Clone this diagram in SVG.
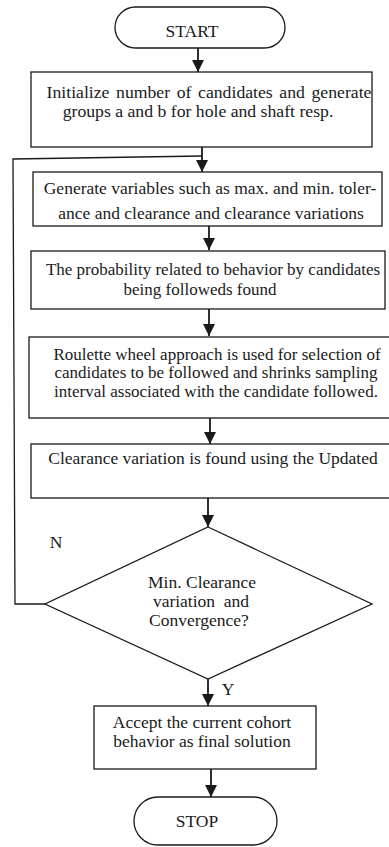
<svg xmlns="http://www.w3.org/2000/svg" width="389" height="847" viewBox="0 0 389 847">
  <style>
    .shape { fill: #ffffff; stroke: #1a1a1a; stroke-width: 1.3; }
    .label { font-family: "Liberation Serif", "Times New Roman", serif; font-size: 17.5px; fill: #1a1a1a; text-anchor: middle; }
    .tight { font-size: 17px; }
    .flow { fill: none; stroke: #1a1a1a; stroke-width: 1.8; }
    .loop { fill: none; stroke: #1a1a1a; stroke-width: 1.3; }
  </style>
  <defs>
    <marker id="arrow" markerUnits="userSpaceOnUse" viewBox="0 0 12 12" refX="12" refY="6" markerWidth="12" markerHeight="12" orient="auto">
      <path d="M0,0 L12,6 L0,12 z" fill="#1a1a1a"/>
    </marker>
  </defs>

  <rect width="389" height="847" fill="#ffffff"/>

  <!-- connectors -->
  <g id="connectors">
    <line class="flow" x1="198" y1="48" x2="198" y2="72" marker-end="url(#arrow)"/>
    <line class="flow" x1="202" y1="147" x2="202" y2="172" marker-end="url(#arrow)"/>
    <line class="flow" x1="209" y1="226" x2="209" y2="250" marker-end="url(#arrow)"/>
    <line class="flow" x1="209" y1="309" x2="209" y2="336" marker-end="url(#arrow)"/>
    <line class="flow" x1="210" y1="418" x2="210" y2="444" marker-end="url(#arrow)"/>
    <line class="flow" x1="208" y1="498" x2="208" y2="527" marker-end="url(#arrow)"/>
    <line class="flow" x1="208" y1="679" x2="208" y2="706" marker-end="url(#arrow)"/>
    <line class="flow" x1="211" y1="769" x2="211" y2="797" marker-end="url(#arrow)"/>
    <!-- "N" branch loops back above the variable generation step -->
    <polyline class="loop" points="45,604 15,604 13,159 202,156"/>
    <text class="label" x="56" y="548">N</text>
    <text class="label" x="228" y="695">Y</text>
  </g>

  <g id="start">
    <rect class="shape" x="115" y="7" width="170" height="41" rx="20.5"/>
    <text class="label" x="192" y="37">START</text>
  </g>

  <g id="init">
    <rect class="shape" x="31" y="72" width="341" height="75"/>
    <text class="label" x="209" y="98" style="font-size:17.7px; word-spacing:2.2px">Initialize number of candidates and generate</text>
    <text class="label" x="198" y="117" style="font-size:17.7px">groups a and b for hole and shaft resp.</text>
  </g>

  <g id="generate">
    <rect class="shape" x="33" y="172" width="349" height="54"/>
    <text class="label" x="210" y="194">Generate variables such as max. and min. toler-</text>
    <text class="label" x="211" y="219">ance and clearance and clearance variations</text>
  </g>

  <g id="probability">
    <rect class="shape" x="31" y="251" width="354" height="58"/>
    <text class="label tight" x="213" y="275">The probability related to behavior by candidates</text>
    <text class="label tight" x="200" y="294.5">being followeds found</text>
  </g>

  <g id="roulette">
    <rect class="shape" x="29" y="337" width="365" height="81"/>
    <text class="label tight" x="217" y="359.5">Roulette wheel approach is used for selection of</text>
    <text class="label tight" x="216" y="378">candidates to be followed and shrinks sampling</text>
    <text class="label tight" x="216" y="396.5">interval associated with the candidate followed.</text>
  </g>

  <g id="clearance">
    <rect class="shape" x="31" y="444" width="363" height="54"/>
    <text class="label" x="213" y="464">Clearance variation is found using the Updated</text>
  </g>

  <g id="decision">
    <polygon class="shape" points="208,527 372,604 208,679 45,604"/>
    <text class="label" x="202" y="588">Min. Clearance</text>
    <text class="label" x="201" y="607" xml:space="preserve">variation  and</text>
    <text class="label" x="199" y="626">Convergence?</text>
  </g>

  <g id="accept">
    <rect class="shape" x="94" y="706" width="222" height="63"/>
    <text class="label" x="202" y="728">Accept the current cohort</text>
    <text class="label" x="202" y="747">behavior as final solution</text>
  </g>

  <g id="stop">
    <rect class="shape" x="134" y="797" width="143" height="48" rx="24"/>
    <text class="label" x="197" y="827">STOP</text>
  </g>
</svg>
